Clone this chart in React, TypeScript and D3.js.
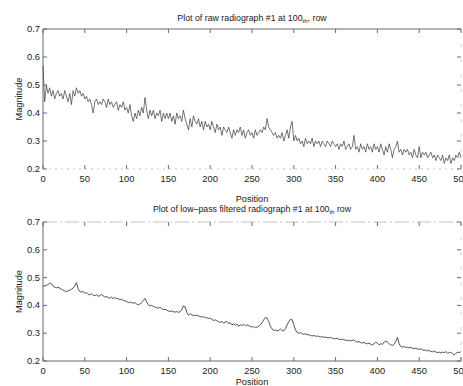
import React from "react";
import * as d3 from "d3";

const STEP = 2;
const rawValues: number[] = [
  0.57,0.44,0.50,0.47,0.49,0.46,0.48,0.45,0.47,0.48,0.46,0.47,0.45,0.48,0.46,0.44,0.47,0.43,0.48,0.46,0.49,0.47,0.48,0.46,0.47,
  0.45,0.46,0.44,0.45,0.43,0.40,0.44,0.45,0.43,0.44,0.43,0.45,0.44,0.42,0.45,0.43,0.44,0.42,0.43,0.44,0.41,0.43,0.42,0.44,0.41,
  0.42,0.40,0.43,0.39,0.37,0.40,0.38,0.41,0.39,0.42,0.40,0.455,0.41,0.38,0.41,0.39,0.41,0.38,0.40,0.39,0.41,0.37,0.40,0.38,0.40,
  0.38,0.40,0.37,0.39,0.36,0.40,0.38,0.39,0.37,0.41,0.38,0.36,0.34,0.38,0.35,0.39,0.37,0.36,0.38,0.35,0.37,0.34,0.37,0.35,0.36,
  0.34,0.37,0.35,0.33,0.36,0.34,0.35,0.32,0.35,0.34,0.33,0.35,0.33,0.31,0.34,0.32,0.34,0.33,0.35,0.32,0.34,0.31,0.33,0.34,0.32,
  0.33,0.31,0.34,0.32,0.33,0.34,0.33,0.35,0.34,0.38,0.35,0.34,0.33,0.32,0.33,0.31,0.32,0.31,0.33,0.30,0.32,0.34,0.31,0.35,0.37,
  0.30,0.32,0.30,0.31,0.29,0.30,0.28,0.31,0.29,0.30,0.29,0.31,0.28,0.30,0.29,0.30,0.28,0.30,0.29,0.28,0.30,0.29,0.28,0.30,0.29,
  0.28,0.29,0.27,0.29,0.28,0.30,0.27,0.28,0.29,0.27,0.28,0.32,0.27,0.28,0.26,0.29,0.27,0.28,0.26,0.29,0.27,0.28,0.26,0.29,0.27,
  0.28,0.26,0.29,0.27,0.25,0.28,0.26,0.29,0.27,0.24,0.27,0.28,0.30,0.26,0.27,0.25,0.27,0.26,0.27,0.25,0.26,0.24,0.27,0.25,0.24,
  0.28,0.24,0.26,0.25,0.26,0.24,0.25,0.26,0.24,0.25,0.23,0.25,0.24,0.23,0.25,0.22,0.24,0.23,0.25,0.22,0.24,0.23,0.25,0.24,0.26,0.24,
];
const filteredValues: number[] = [
  0.47,0.47,0.472,0.475,0.48,0.478,0.47,0.465,0.463,0.465,0.462,0.458,0.455,0.452,0.45,0.452,0.455,0.458,0.462,0.47,0.482,0.46,0.45,0.448,0.45,
  0.444,0.446,0.44,0.438,0.442,0.436,0.435,0.438,0.433,0.435,0.44,0.434,0.43,0.432,0.428,0.426,0.43,0.425,0.428,0.424,0.425,0.42,0.422,0.418,0.416,
  0.414,0.41,0.412,0.41,0.408,0.41,0.405,0.402,0.405,0.41,0.418,0.425,0.412,0.402,0.398,0.4,0.396,0.394,0.392,0.39,0.394,0.388,0.385,0.386,0.383,
  0.38,0.378,0.38,0.377,0.376,0.378,0.375,0.377,0.385,0.398,0.395,0.375,0.365,0.37,0.366,0.364,0.363,0.365,0.362,0.36,0.358,0.36,0.355,0.356,0.353,
  0.354,0.35,0.346,0.348,0.344,0.342,0.338,0.343,0.336,0.34,0.342,0.335,0.338,0.33,0.334,0.328,0.333,0.325,0.33,0.328,0.332,0.326,0.33,0.327,0.325,
  0.322,0.324,0.32,0.322,0.325,0.33,0.338,0.348,0.356,0.355,0.342,0.325,0.315,0.31,0.312,0.308,0.31,0.315,0.31,0.308,0.316,0.33,0.342,0.35,0.348,
  0.33,0.312,0.302,0.3,0.302,0.298,0.296,0.298,0.294,0.295,0.292,0.29,0.292,0.289,0.29,0.288,0.286,0.288,0.285,0.286,0.284,0.283,0.285,0.282,0.28,
  0.28,0.282,0.278,0.277,0.279,0.276,0.275,0.273,0.275,0.272,0.274,0.276,0.27,0.268,0.27,0.266,0.265,0.267,0.263,0.262,0.264,0.26,0.258,0.262,0.268,
  0.264,0.258,0.262,0.26,0.268,0.272,0.268,0.262,0.258,0.256,0.26,0.27,0.285,0.262,0.252,0.25,0.252,0.248,0.25,0.247,0.249,0.246,0.244,0.246,0.243,
  0.242,0.244,0.24,0.238,0.24,0.236,0.238,0.234,0.233,0.236,0.232,0.23,0.232,0.229,0.232,0.23,0.234,0.228,0.23,0.232,0.226,0.222,0.228,0.232,0.23,0.234,
];
const xTicks = [0, 50, 100, 150, 200, 250, 300, 350, 400, 450, 500];
const yTicks = [0.2, 0.3, 0.4, 0.5, 0.6, 0.7];
const titles = ["Plot of raw radiograph #1 at 100", "Plot of low\u2013pass filtered radiograph #1 at 100"];
const titleTails = [", row", " row"];

const FONT = "'Liberation Sans', Arial, sans-serif";

function Panel({ values, top, bottom, title, tail, titleY, tickY, posY, solidTop, lineColor, lineWidth }: any) {
  const x = d3.scaleLinear().domain([0, 500]).range([43, 461]);
  const y = d3.scaleLinear().domain([0.2, 0.7]).range([bottom, top]);
  const line = d3
    .line<number>()
    .x((_, i) => x(i * STEP))
    .y((d) => y(d));
  const frame = "#6a6a6a";
  const faint = "#c4c4c4";
  const tl = 4;
  return (
    <g>
      <text x={252} y={titleY} textAnchor="middle" fontSize={8.8} fontFamily={FONT} fill="#222">
        {title}
        <tspan fontSize={6} dy={2}>th</tspan>
        <tspan dy={-2}>{tail}</tspan>
      </text>
      <line x1={x(0)} x2={x(0)} y1={top} y2={bottom} stroke={frame} strokeWidth={1} />
      <line x1={x(0)} x2={x(500)} y1={top} y2={top} stroke={solidTop ? frame : faint} strokeWidth={1} strokeDasharray={solidTop ? undefined : "14,3,2,3"} />
      <line x1={x(0)} x2={x(500)} y1={bottom} y2={bottom} stroke={solidTop ? faint : frame} strokeWidth={1} strokeDasharray={solidTop ? "2,4" : undefined} />
      <line x1={x(500)} x2={x(500)} y1={top} y2={bottom} stroke={faint} strokeWidth={0.8} strokeDasharray="3,12" />
      {xTicks.map((t) => (
        <g key={"x" + t}>
          <line x1={x(t)} x2={x(t)} y1={top} y2={top + tl} stroke={frame} />
          <line x1={x(t)} x2={x(t)} y1={bottom} y2={bottom - tl} stroke={frame} />
          <text x={x(t)} y={tickY} textAnchor="middle" fontSize={9.4} fontFamily={FONT} fill="#222">
            {t}
          </text>
        </g>
      ))}
      {yTicks.map((t) => (
        <g key={"y" + t}>
          <line x1={x(0)} x2={x(0) + tl} y1={y(t)} y2={y(t)} stroke={frame} />
          <line x1={x(500)} x2={x(500) - tl} y1={y(t)} y2={y(t)} stroke={frame} />
          <text x={40} y={y(t) + 3} textAnchor="end" fontSize={9.4} fontFamily={FONT} fill="#222">
            {t.toFixed(1)}
          </text>
        </g>
      ))}
      <text x={252} y={posY} textAnchor="middle" fontSize={9.2} fontFamily={FONT} fill="#222">
        Position
      </text>
      <text
        transform={`translate(22,${(top + bottom) / 2}) rotate(-90)`}
        textAnchor="middle"
        fontSize={9.2}
        fontFamily={FONT}
        fill="#222"
      >
        Magnitude
      </text>
      <path d={line(values) || ""} fill="none" stroke={lineColor} strokeWidth={lineWidth} />
    </g>
  );
}

export default function App() {
  return (
    <svg
      width={463}
      height={386}
      style={{ position: "fixed", left: 0, top: 0, background: "#fff" }}
    >
      <rect width={463} height={386} fill="#fff" />
      <Panel values={rawValues} top={29} bottom={169} title={titles[0]} tail={titleTails[0]} titleY={21} tickY={182} posY={202} solidTop={true} lineColor="#3a3a3a" lineWidth={0.7} />
      <Panel values={filteredValues} top={222} bottom={361} title={titles[1]} tail={titleTails[1]} titleY={212} tickY={374} posY={385} solidTop={false} lineColor="#2a2a2a" lineWidth={0.8} />
    </svg>
  );
}
